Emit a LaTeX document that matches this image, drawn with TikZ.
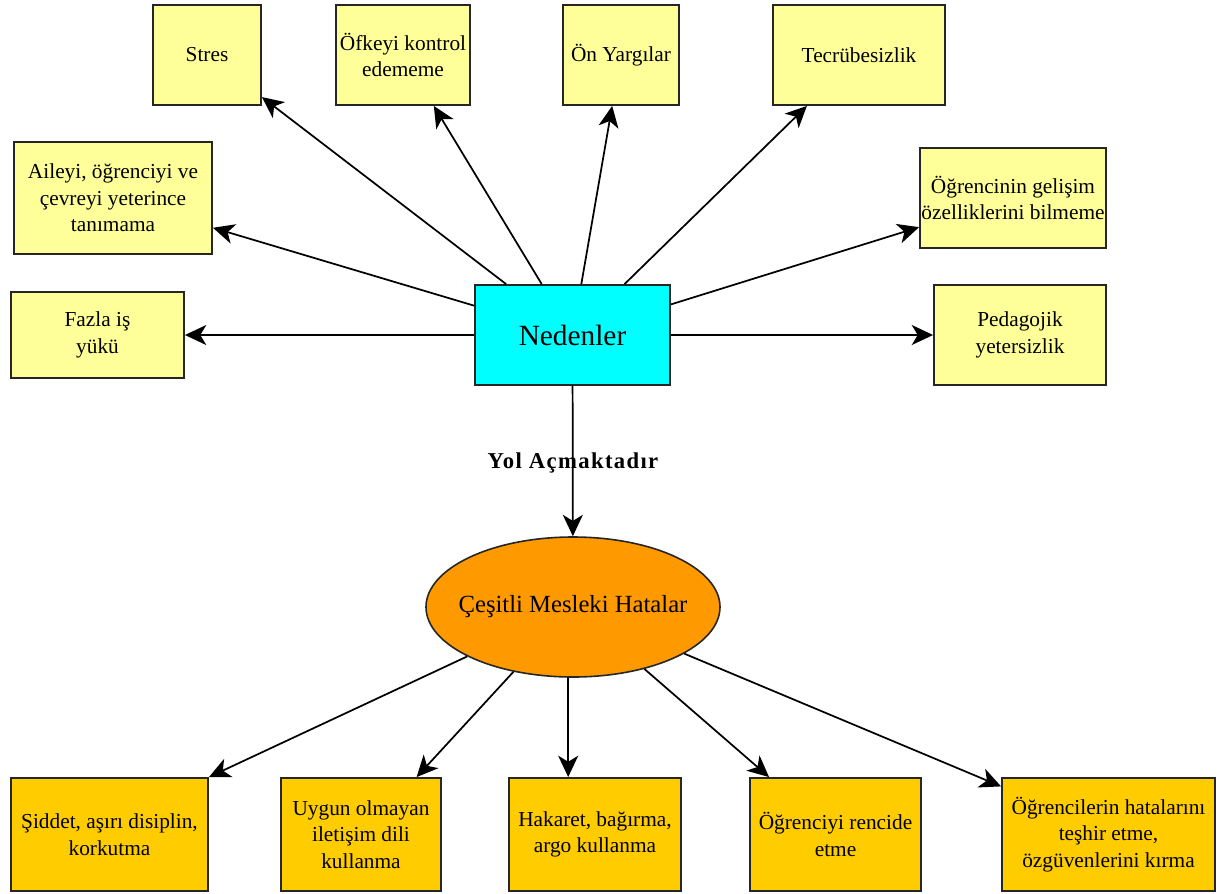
\documentclass[tikz,border=0pt]{standalone}
\usepackage{fontspec}
\setmainfont{Liberation Serif}
\usetikzlibrary{arrows.meta,shapes.geometric}
\tikzset{
  base/.style 2 args={draw=black!85, line width=1.4pt, inner sep=0pt, align=center,
    minimum width=#1*0.75pt, minimum height=#2*0.75pt,
    font=\fontsize{16}{20}\selectfont},
  ybox/.style 2 args={base={#1}{#2}, fill=ybfill},
  obox/.style 2 args={base={#1}{#2}, fill=obfill},
  conn/.style={line width=1.3pt, -{Stealth[length=16pt,width=15pt,inset=4.5pt]}},
}
\definecolor{ybfill}{HTML}{FFFF99}
\definecolor{obfill}{HTML}{FFCC00}
\definecolor{cyanfill}{HTML}{00FFFF}
\definecolor{orangefill}{HTML}{FF9900}
\begin{document}
\begin{tikzpicture}[x=0.75pt,y=-0.75pt]
\useasboundingbox (0,0) rectangle (1223,893);
% center
\node[base={195}{100}, fill=cyanfill, font=\fontsize{22}{26}\selectfont] (ned) at (572.5,335) {Nedenler};
% top boxes
\node[ybox={108}{100}] (stres) at (207,55) {Stres};
\node[ybox={134}{100}] (ofke) at (403,55) {Öfkeyi kontrol\\edememe};
\node[ybox={116}{100}] (onyar) at (621,55) {Ön Yargılar};
\node[ybox={172}{100}] (tecr) at (859,55) {Tecrübesizlik};
\node[ybox={198}{112}] (aile) at (113,198) {Aileyi, öğrenciyi ve\\çevreyi yeterince\\tanımama};
\node[ybox={186}{100}] (gelis) at (1013,198) {Öğrencinin gelişim\\özelliklerini bilmeme};
\node[ybox={173}{86}] (fazla) at (97.5,335) {Fazla iş\\yükü};
\node[ybox={172}{100}] (peda) at (1020,335) {Pedagojik\\yetersizlik};
% ellipse
\node[ellipse, draw=black!85, line width=1.2pt, fill=orangefill, inner sep=0pt,
  minimum width=294*0.75pt, minimum height=140*0.75pt] (hata) at (573,607) {};
\node[font=\fontsize{18.5}{22}\selectfont] (hatatxt) at (hata) {Çeşitli Mesleki Hatalar};
% bottom boxes
\node[obox={197}{113}] (sidd) at (109.5,834.5) {Şiddet, aşırı disiplin,\\korkutma};
\node[obox={160}{113}] (uyg) at (361,834.5) {Uygun olmayan\\iletişim dili\\kullanma};
\node[obox={172}{113}] (hak) at (595,834.5) {Hakaret, bağırma,\\argo kullanma};
\node[obox={171}{113}] (renc) at (835.5,834.5) {Öğrenciyi rencide\\etme};
\node[obox={213}{113}] (teshir) at (1108.5,834.5) {Öğrencilerin hatalarını\\teşhir etme,\\özgüvenlerini kırma};
% connectors
\foreach \t in {stres,ofke,onyar,tecr,aile,gelis,fazla,peda}
  \draw[conn] (ned) -- (\t);
\draw[conn] (ned) -- (hata);
\draw[conn] (hata) -- (sidd.north east);
\draw[conn] (hata) -- ([xshift=-19pt]uyg.north east);
\draw[conn] ([xshift=-3.6pt]hata.south) -- ([xshift=-3.6pt]hata.south |- hak.north);
\draw[conn] (hata) -- ([xshift=15pt]renc.north west);
\draw[conn] (hata) -- ([yshift=-7pt]teshir.north west);
\node[font=\fontsize{17}{20}\selectfont\bfseries\addfontfeature{LetterSpace=6}] (lab) at (573,463) {Yol Açmaktadır};
\end{tikzpicture}
\end{document}
